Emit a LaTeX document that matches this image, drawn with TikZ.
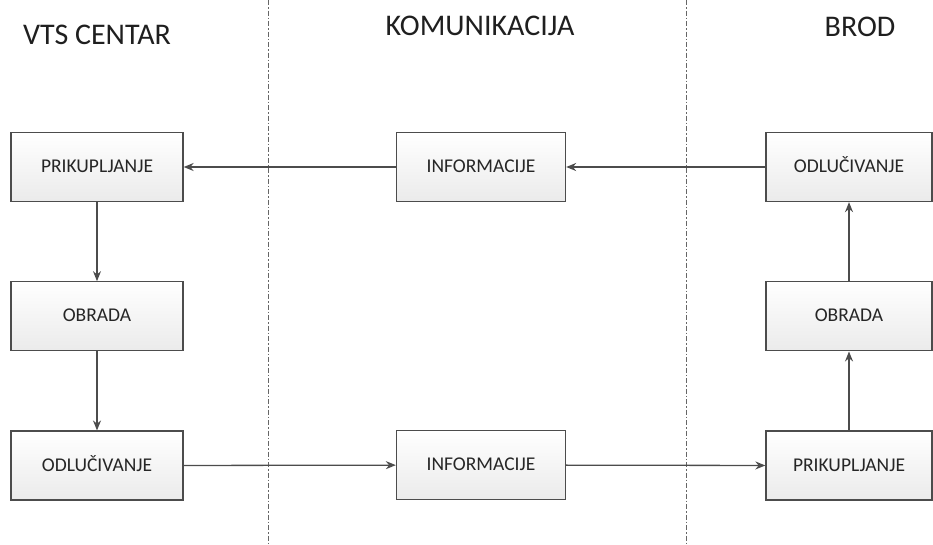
\documentclass[tikz,border=0pt]{standalone}
\usepackage{fontspec}
\setmainfont{Carlito}
\colorlet{colorLine}{black!70}
\colorlet{colorDivider}{black!60}
\usetikzlibrary{arrows, arrows.meta, positioning}
\tikzset{box/.style={draw=colorLine, top color=white, bottom color=black!8, minimum width=172pt, minimum height=69pt, text=black!85, text height=13pt, text depth=2pt, font=\fontsize{19.5}{24}\selectfont},
  title/.style={text=black!88, font=\fontsize{30}{36}\selectfont}}

\begin{document}
\begin{tikzpicture}[x=1pt, y=1pt, >={Stealth[length=10pt, width=8pt]}, line width=1.3pt, colorLine, node distance=79pt]
\useasboundingbox (0,0) rectangle (933,-544);
\draw[colorDivider, line width=0.8pt, dash pattern=on 5pt off 2pt on 1.5pt off 2pt] (268,0) -- (268,-544);
\draw[colorDivider, line width=0.8pt, dash pattern=on 5pt off 2pt on 1.5pt off 2pt] (686,0) -- (686,-544);
\node[title] (tVts) at (97,-35) {VTS CENTAR};
\node[title] (tKom) at (480,-26) {KOMUNIKACIJA};
\node[title] (tBrod) at (860,-27) {BROD};
\node[box] (vtsPrik) at (97,-167) {PRIKUPLJANJE};
\node[box, below=of vtsPrik] (vtsObr) {OBRADA};
\node[box, below=of vtsObr] (vtsOdl) {ODLUČIVANJE};
\node[box, minimum width=169pt] (komTop) at (481,-167) {INFORMACIJE};
\node[box, minimum width=169pt] (komBot) at (481,-465) {INFORMACIJE};
\node[box, minimum width=166pt] (brodOdl) at (849,-167) {ODLUČIVANJE};
\node[box, minimum width=166pt, below=of brodOdl] (brodObr) {OBRADA};
\node[box, minimum width=166pt, below=of brodObr] (brodPrik) {PRIKUPLJANJE};
\draw[->] (brodOdl) -- (komTop);
\draw[->] (komTop) -- (vtsPrik);
\draw[->] (vtsPrik) -- (vtsObr);
\draw[->] (vtsObr) -- (vtsOdl);
\draw[->] (vtsOdl) -- (komBot);
\draw[->] (komBot) -- (brodPrik);
\draw[->] (brodPrik) -- (brodObr);
\draw[->] (brodObr) -- (brodOdl);
\end{tikzpicture}
\end{document}
